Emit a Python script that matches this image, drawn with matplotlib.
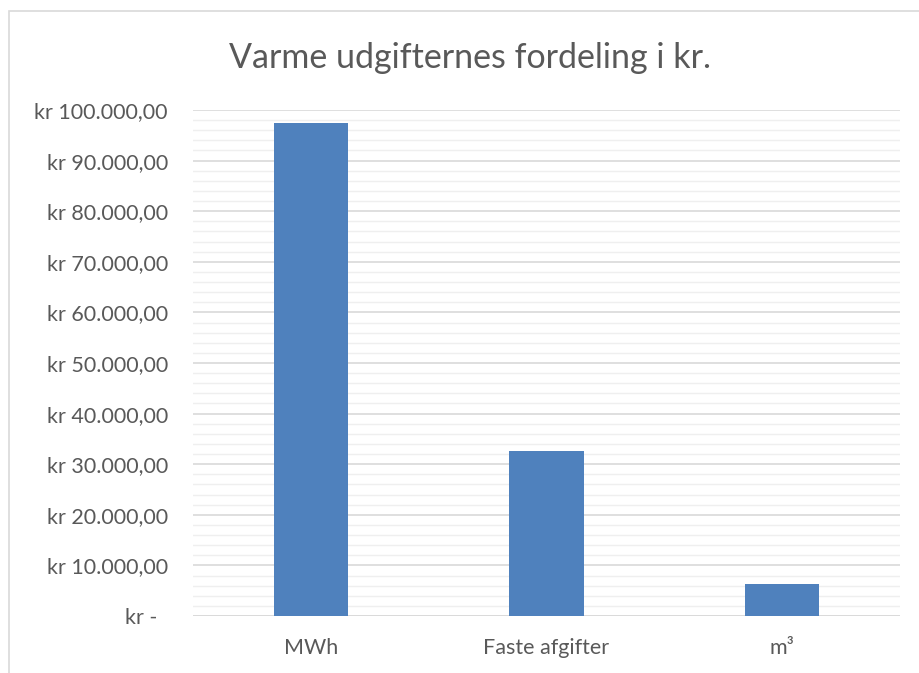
import matplotlib
matplotlib.use("Agg")
import matplotlib.pyplot as plt
from matplotlib.patches import Rectangle
from matplotlib.ticker import MultipleLocator, FuncFormatter

plt.rcParams['font.family'] = ['Lato', 'DejaVu Sans']

# data
categories = ['MWh', 'Faste afgifter', 'm³']
values = [97400, 32700, 6300]
title = 'Varme udgifternes fordeling i kr.'

W, H = 920, 673
fig = plt.figure(figsize=(W / 100, H / 100), dpi=100)

# chart frame
fig.patches.append(Rectangle((9 / W, -0.01), 1.0, (H - 11) / H + 0.01,
                             transform=fig.transFigure, fill=False,
                             edgecolor='#d9d9d9', linewidth=1.2))

ax = fig.add_axes([193 / W, (H - 616) / H, (900 - 193) / W, (616 - 110) / H])
x = range(len(categories))
ax.bar(x, values, width=0.315, color='#4f81bd', zorder=3)

ax.set_xlim(-0.5, len(categories) - 0.5)
ax.set_ylim(0, 100000)
ax.yaxis.set_major_locator(MultipleLocator(10000))
ax.yaxis.set_minor_locator(MultipleLocator(2000))


def kr(v, pos):
    if v == 0:
        return 'kr -  '
    return 'kr ' + f'{v:,.2f}'.replace(',', 'X').replace('.', ',').replace('X', '.')


ax.yaxis.set_major_formatter(FuncFormatter(kr))
ax.grid(axis='y', which='major', color='#d9d9d9', linewidth=1.2, zorder=0)
ax.grid(axis='y', which='minor', color='#efefef', linewidth=1.0, zorder=0)
for s in ax.spines.values():
    s.set_visible(False)
ax.axhline(0, color='#d9d9d9', linewidth=1.2, zorder=2)
ax.tick_params(axis='both', which='both', length=0, colors='#595959', labelsize=15.5)
ax.tick_params(axis='y', pad=18)
ax.tick_params(axis='x', pad=16)
ax.set_xticks(list(x))
ax.set_xticklabels(categories)

fig.text(0.511, (H - 58) / H, title, ha='center', va='center',
         fontsize=24.5, color='#595959')

fig.savefig('out.png', dpi=100)
